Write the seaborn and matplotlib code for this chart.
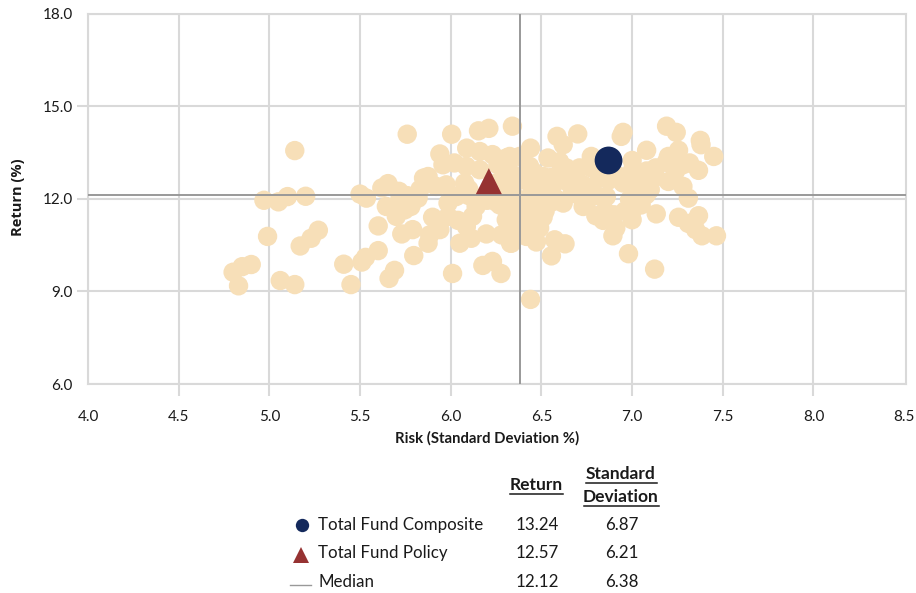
import matplotlib
matplotlib.use("Agg")
import matplotlib.pyplot as plt
from matplotlib.lines import Line2D
import seaborn as sns
import pandas as pd

peer_risk = [4.80,4.85,4.90,4.83,4.97,5.05,5.10,5.20,4.99,5.06,5.14,5.14,5.17,5.23,5.27,5.41,5.45,5.51,5.53,5.60,
5.50,5.535,5.60,5.66,5.69,5.796,5.76,5.654,5.62,5.715,5.645,5.82,5.78,5.746,5.70,5.73,5.79,5.875,5.85,5.875,
5.90,5.94,5.884,5.985,6.05,6.113,6.196,6.28,6.33,5.985,5.975,6.086,6.12,6.14,6.03,6.077,6.086,6.16,6.25,6.32,
6.27,6.306,6.36,6.005,6.153,6.21,6.34,5.94,6.088,6.16,6.23,6.306,6.38,6.02,5.957,6.01,6.177,6.23,6.277,
6.586,6.70,6.62,6.95,6.94,7.19,7.243,7.376,7.38,7.45,7.366,7.256,7.08,7.0,7.188,7.13,6.775,6.44,6.536,6.637,6.71,
6.775,6.82,6.73,6.858,6.95,7.04,7.078,6.986,7.0,6.9,6.894,6.91,7.133,6.98,7.124,7.256,7.366,7.31,7.28,7.2,
7.385,7.465,7.35,7.31,6.555,6.573,6.63,6.472,6.334,6.509,6.49,6.62,6.73,6.8,6.70,6.47,6.454,6.51,6.435,6.56,
6.64,6.325,6.316,6.426,6.454,6.34,6.417,6.44,7.06,7.2,7.317,7.02,6.29,6.37,6.41,6.50,6.58,6.67,6.76,6.84,
6.20,6.10,6.04,5.92,5.83,5.87,6.26,6.39,6.60,6.68,6.92,7.10,6.52,6.46,
6.46,6.52,6.56,6.56,6.45,6.78,6.72,6.80,6.87,6.75,6.85,6.84,6.98,7.00,7.08,7.13,7.03,6.96,7.05,7.00,
7.24,7.28,5.76,5.72,6.15,6.10,6.20,6.25,6.32,6.30,6.35,6.40,6.38,6.42]
peer_return = [9.62,9.80,9.87,9.18,11.95,11.90,12.07,12.08,10.78,9.35,9.22,13.56,10.47,10.72,10.98,9.88,9.22,9.95,10.10,10.32,
12.15,12.02,11.12,9.42,9.68,10.16,14.09,12.49,12.35,12.24,11.75,12.02,11.75,11.64,11.43,10.86,11.00,10.56,12.67,12.72,
11.40,11.00,10.83,11.43,10.56,10.72,10.86,10.83,10.56,11.86,12.45,11.10,11.43,11.75,12.07,12.51,13.05,12.94,12.51,12.94,
11.80,11.32,10.88,14.09,14.20,14.28,14.35,13.45,13.64,13.53,13.43,13.32,13.37,13.16,13.10,9.58,9.84,9.97,9.58,
14.02,14.10,13.75,14.15,14.02,14.35,14.15,13.89,13.75,13.37,12.92,13.57,13.57,13.24,13.18,13.00,13.37,13.64,13.32,13.00,13.00,
13.00,12.67,12.45,12.07,12.51,12.40,12.13,11.97,11.32,11.48,10.80,11.05,11.51,10.22,9.72,11.40,11.45,12.02,12.40,12.56,
10.80,10.80,11.00,11.20,10.15,10.67,10.54,10.60,10.56,11.40,11.05,11.86,11.75,11.45,12.13,12.18,12.51,12.72,13.05,12.40,
12.56,13.37,12.72,11.75,11.43,11.00,10.78,8.74,12.67,13.37,13.16,12.83,12.30,12.00,11.10,11.85,12.00,12.20,12.20,12.90,
12.10,12.10,11.30,12.40,12.30,12.60,13.10,12.70,13.20,12.85,12.75,12.30,12.10,12.85,
11.90,11.60,11.90,12.70,12.30,12.30,12.30,12.10,12.60,11.90,11.60,11.30,12.70,12.90,12.90,12.70,12.10,11.60,11.80,11.60,
12.90,13.10,12.10,12.00,12.00,12.30,11.95,11.90,12.30,11.90,11.60,11.30,12.60,12.90]

composite = ("Total Fund Composite", 6.87, 13.24)
policy = ("Total Fund Policy", 6.21, 12.57)
median = ("Median", 6.38, 12.12)
x_ticks = [4.0,4.5,5.0,5.5,6.0,6.5,7.0,7.5,8.0,8.5]
y_ticks = [6.0,9.0,12.0,15.0,18.0]

W, H = 916, 593
plt.rcParams['font.family'] = ['Lato', 'DejaVu Sans']
fig = plt.figure(figsize=(W/100, H/100), dpi=100)
ax = fig.add_axes([88/W, 1-384/H, (906-88)/W, (384-13.5)/H])
GRID = "#d9d9d9"
ax.set_xlim(4.0, 8.51); ax.set_ylim(6, 18)
ax.set_xticks(x_ticks); ax.set_yticks(y_ticks)
ax.set_xticklabels([f"{v:.1f}" for v in x_ticks])
ax.set_yticklabels([f"{v:.1f}" for v in y_ticks])
ax.grid(True, color=GRID, lw=1.5, zorder=0)
ax.set_axisbelow(True)
for s in ax.spines.values():
    s.set_color(GRID); s.set_linewidth(1.5)
ax.tick_params(axis='y', length=8, width=1.5, color=GRID, labelsize=11, labelcolor="#1a1a1a", pad=3)
ax.tick_params(axis='x', length=8.5, width=1.5, color=GRID, labelsize=11, labelcolor="#1a1a1a", pad=10)
xt = ax.xaxis.get_major_ticks(); yt = ax.yaxis.get_major_ticks()
for t in (xt[0], xt[-1], yt[0], yt[-1]):
    t.tick1line.set_visible(False)
xt[-1].gridline.set_visible(False)
df = pd.DataFrame({"risk": peer_risk, "ret": peer_return})
sns.scatterplot(data=df, x="risk", y="ret", ax=ax, s=195, color="#f7dfb8", edgecolor="none", zorder=2, clip_on=False)
ax.axvline(median[1], color="#999999", lw=1.4, zorder=3)
ax.axhline(median[2], color="#999999", lw=1.4, zorder=3)
ax.scatter([policy[1]], [policy[2]], marker="^", s=350, color="#963232", edgecolor="none", zorder=4)
ax.scatter([composite[1]], [composite[2]], marker="o", s=400, color="#14295c", edgecolor="none", zorder=5)
ax.set_xlabel("")
ax.set_ylabel("")

def T(x, y, s, **k):
    k.setdefault("fontsize", 12.2); k.setdefault("color", "#1a1a1a"); k.setdefault("va", "center")
    return fig.text(x/W, 1-y/H, s, **k)
T(487, 438, "Risk (Standard Deviation %)", ha="center", fontsize=10.7, fontweight="bold")
T(18, 197, "Return (%)", ha="center", rotation=90, family="Open Sans", fontsize=10.5, fontweight="bold")
for x, y, s in [(536, 485, "Return"), (621, 474, "Standard"), (621, 497, "Deviation")]:
    T(x, y, s, ha="center", fontweight="bold", fontsize=12.5)
for x0, x1, y in [(510, 563, 494), (586, 657, 483), (584, 659, 506)]:
    fig.add_artist(Line2D([x0/W, x1/W], [1-y/H]*2, color="#1a1a1a", lw=1.1))
rows = [composite, policy, median]
for (name, risk, ret), y in zip(rows, [525, 553, 582]):
    T(318, y, name)
    T(537, y, f"{ret:.2f}", ha="center")
    T(622, y, f"{risk:.2f}", ha="center")
fig.add_artist(Line2D([302/W], [1-525/H], marker="o", ms=9.6, color="#14295c", mew=0, ls=""))
fig.add_artist(Line2D([301/W], [1-555/H], marker="^", ms=11, color="#963232", mew=0, ls=""))
fig.add_artist(Line2D([290/W, 311/W], [1-585/H]*2, color="#999999", lw=1))
fig.savefig("out.png", dpi=100)
